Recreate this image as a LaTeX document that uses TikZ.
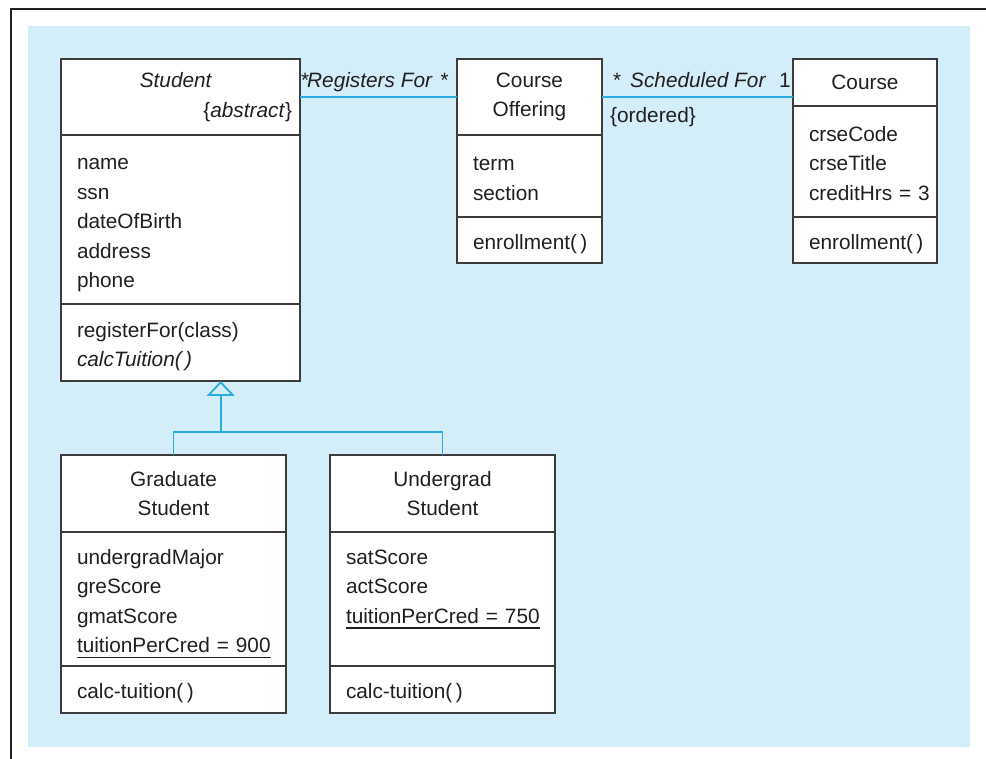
\documentclass[tikz,border=0pt]{standalone}
\usepackage{fontspec}
\setmainfont{Liberation Sans}
\usepackage{tikz}
\usetikzlibrary{positioning,arrows.meta}
\definecolor{ink}      {HTML}{231F20}
\definecolor{boxline}  {HTML}{3C3C3C}
\definecolor{sky}      {HTML}{D3EDF9}
\definecolor{cyanline} {HTML}{29ABE2}
% underlined (class scope) attribute
\newcommand{\classscope}[1]{\leavevmode\setbox0\hbox{#1}\rlap{\rule[-5.5pt]{\wd0}{1.4pt}}\box0}
\tikzset{
  >=stealth,
  every node/.style={font=\fontsize{20.8}{29.5}\selectfont, text=ink},
  % --- class boxes
  cls/.style  = {draw=boxline, fill=white, line width=1.8pt, outer sep=0pt, inner ysep=0pt},
  head/.style = {cls, align=center, inner xsep=8pt, text width=#1},
  part/.style = {cls, align=left, inner xsep=16pt, text width=#1,
                 execute at begin node=\rule{0pt}{27.6pt}, execute at end node=\strut},
  % --- links
  link/.style = {draw=cyanline, line width=1.8pt},
  inh/.style  = {link, -{Triangle[open, width=28pt, length=15pt]}},
  frame/.style= {draw=ink, line width=2.6pt},
  mult/.style = {inner sep=0pt},
  role/.style = {inner sep=0pt, font=\fontsize{20.8}{29.5}\selectfont\itshape},
}

\begin{document}
\begin{tikzpicture}[x=1pt, y=-1pt]
  \useasboundingbox (0,0) rectangle (986,759);
  \fill[sky] (28,26) rectangle (970,747);
  \draw[frame] (986,9) -- (11,9) -- (11,759);

  % Student
  \node[head=223pt, minimum height=76pt, anchor=north west] (stu) at (61,59)
       {\textit{Student}\kern9pt\\ \hfill\{\textit{abstract}\}};
  \node[part=207pt, minimum height=169pt, below=0pt of stu] (stu-a)
       {name\\ssn\\dateOfBirth\\address\\phone};
  \node[part=207pt, minimum height=77pt, below=0pt of stu-a] (stu-o)
       {registerFor(class)\\\textit{calcTuition(\,)}};

  % Course Offering
  \node[head=129pt, minimum height=76pt, anchor=north west] (co) at (457,59) {Course\\Offering};
  \node[part=113pt, minimum height=82pt, below=0pt of co] (co-a) {term\\section};
  \node[part=113pt, minimum height=46pt, below=0pt of co-a] (co-o) {enrollment(\,)};

  % Course
  \node[head=128pt, minimum height=47pt, anchor=north west] (crs) at (793,59) {Course};
  \node[part=112pt, minimum height=111pt, below=0pt of crs] (crs-a)
       {crseCode\\crseTitle\\creditHrs~=~3};
  \node[part=112pt, minimum height=46pt, below=0pt of crs-a] (crs-o) {enrollment(\,)};

  % Graduate Student
  \node[head=209pt, minimum height=77pt, anchor=north west] (grad) at (61,455) {Graduate\\Student};
  \node[part=193pt, minimum height=134pt, below=0pt of grad] (grad-a)
       {undergradMajor\\greScore\\gmatScore\\\classscope{tuitionPerCred = 900}};
  \node[part=193pt, minimum height=47pt, below=0pt of grad-a] (grad-o) {calc-tuition(\,)};

  % Undergrad Student
  \node[head=209pt, minimum height=77pt, anchor=north west] (ugrad) at (330,455) {Undergrad\\Student};
  \node[part=193pt, minimum height=134pt, below=0pt of ugrad] (ugrad-a)
       {satScore\\actScore\\\classscope{tuitionPerCred = 750}\\\mbox{}};
  \node[part=193pt, minimum height=47pt, below=0pt of ugrad-a] (ugrad-o) {calc-tuition(\,)};

  % associations
  \coordinate (crs-in) at (co.east -| crs.west);
  \draw[link] (stu.east) -- (co.west);
  \draw[link] (co.east) -- (crs-in);
  \node[mult, anchor=base west] (reg-m1) at ([xshift=1pt, yshift=9pt]stu.east) {*};
  \node[role, anchor=base west] (reg) at ([xshift=7pt, yshift=9pt]stu.east) {Registers For};
  \node[mult, anchor=base east] (reg-m2) at ([xshift=-8pt, yshift=9pt]co.west) {*};
  \node[mult, anchor=base west] (sch-m1) at ([xshift=11pt, yshift=9pt]co.east) {*};
  \node[role, anchor=base west] (sch) at ([xshift=28pt, yshift=9pt]co.east) {Scheduled For};
  \node[mult, anchor=base east] (sch-m2) at ([xshift=-2pt, yshift=9pt]crs-in) {1};
  \node[mult, anchor=base west] (ord) at ([xshift=8pt, yshift=-26pt]co.east) {\{ordered\}};

  % generalization
  \coordinate (gj) at (220.7,432);
  \draw[link] (grad.north) |- (gj);
  \draw[link] (ugrad.north) |- (gj);
  \draw[inh] (gj) -- (gj |- stu-o.south);
\end{tikzpicture}
\end{document}
